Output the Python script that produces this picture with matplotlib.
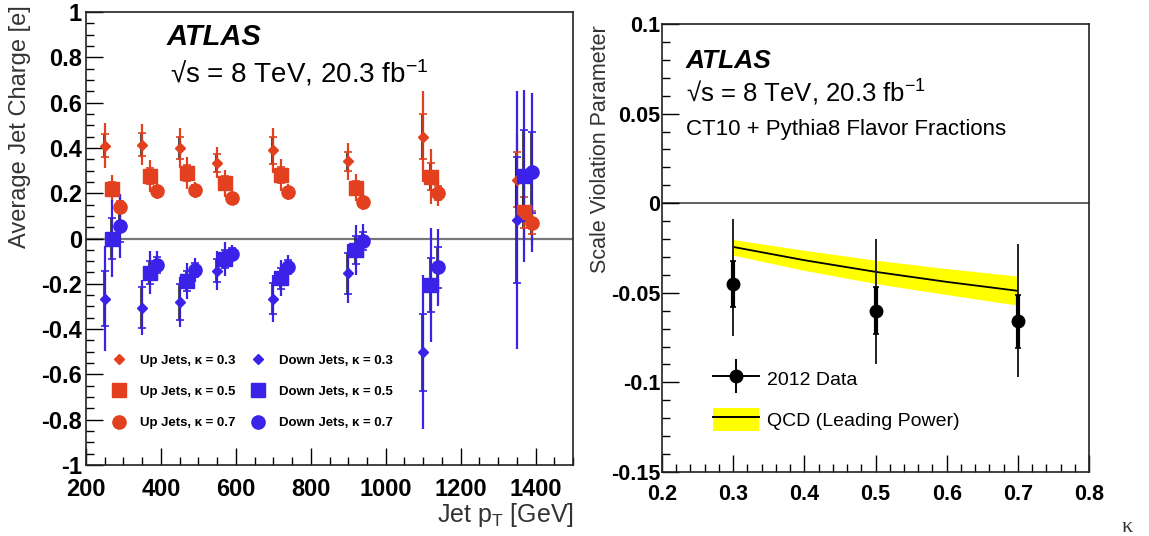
import numpy as np
import matplotlib
matplotlib.use("Agg")
import matplotlib.pyplot as plt
from matplotlib.lines import Line2D
from matplotlib.patches import Patch
from matplotlib.ticker import MultipleLocator

plt.rcParams["font.family"] = ["Liberation Sans", "DejaVu Sans"]
plt.rcParams["mathtext.fontset"] = "custom"
plt.rcParams["mathtext.rm"] = "Liberation Sans"
plt.rcParams["mathtext.it"] = "Liberation Sans:italic"

# ---- left panel: average jet charge vs pT ----
pt_k03 = [250, 350, 450, 550, 700, 900, 1100, 1350]
pt_k05 = [270, 370, 470, 570, 720, 920, 1120, 1370]
pt_k07 = [290, 390, 490, 590, 740, 940, 1140, 1390]

up_k03 = [0.41, 0.415, 0.40, 0.335, 0.39, 0.34, 0.45, 0.26]
up_k03_err = [0.10, 0.09, 0.09, 0.07, 0.10, 0.08, 0.20, 0.20]
up_k03_stat = [0.05, 0.05, 0.05, 0.04, 0.06, 0.04, 0.10, 0.12]
up_k05 = [0.22, 0.277, 0.288, 0.244, 0.279, 0.224, 0.273, 0.115]
up_k05_err = [0.06, 0.07, 0.07, 0.06, 0.07, 0.06, 0.12, 0.12]
up_k05_stat = [0.03, 0.035, 0.035, 0.03, 0.035, 0.03, 0.06, 0.07]
up_k07 = [0.14, 0.211, 0.214, 0.18, 0.205, 0.16, 0.202, 0.07]
up_k07_err = [0.05, 0.035, 0.035, 0.03, 0.035, 0.035, 0.06, 0.10]
up_k07_stat = [0.025, 0.02, 0.02, 0.015, 0.02, 0.02, 0.03, 0.05]

down_k03 = [-0.265, -0.305, -0.28, -0.142, -0.265, -0.154, -0.503, 0.082]
down_k03_err = [0.23, 0.12, 0.11, 0.085, 0.105, 0.13, 0.34, 0.57]
down_k03_stat = [0.12, 0.09, 0.08, 0.05, 0.07, 0.09, 0.17, 0.28]
down_k05 = [0.0, -0.151, -0.188, -0.092, -0.176, -0.051, -0.205, 0.277]
down_k05_err = [0.17, 0.095, 0.08, 0.075, 0.08, 0.11, 0.25, 0.38]
down_k05_stat = [0.09, 0.05, 0.045, 0.04, 0.045, 0.06, 0.12, 0.20]
down_k07 = [0.055, -0.117, -0.139, -0.068, -0.127, -0.011, -0.127, 0.292]
down_k07_err = [0.14, 0.06, 0.055, 0.04, 0.055, 0.075, 0.17, 0.35]
down_k07_stat = [0.07, 0.035, 0.03, 0.025, 0.03, 0.04, 0.09, 0.18]

# ---- right panel: scale violation parameter vs kappa ----
kappa = [0.3, 0.5, 0.7]
svp_data = [-0.045, -0.060, -0.066]
svp_err_up = [0.036, 0.040, 0.043]
svp_err_dn = [0.029, 0.030, 0.031]
svp_stat = [0.013, 0.013, 0.015]

qcd_kappa = [0.3, 0.4, 0.5, 0.6, 0.7]
qcd_central = [-0.0244, -0.0318, -0.0383, -0.0439, -0.0489]
qcd_upper = [-0.0203, -0.0263, -0.0318, -0.0365, -0.0407]
qcd_lower = [-0.0290, -0.0375, -0.0448, -0.0510, -0.0569]

RED = "#e2401e"
BLUE = "#3a22e8"


def style_axes(ax, tick_size, ypad, xpad):
    ax.tick_params(which="both", direction="in", top=False, right=False,
                   labelsize=tick_size, width=1.0, colors="black")
    ax.tick_params(which="major", length=12)
    ax.tick_params(which="minor", length=6)
    ax.tick_params(axis="y", pad=ypad)
    ax.tick_params(axis="x", pad=xpad)
    for lab in ax.get_xticklabels() + ax.get_yticklabels():
        lab.set_fontweight("bold")
    for sp in ax.spines.values():
        sp.set_linewidth(1.2)
        sp.set_color("#222222")


def draw_series(ax, x, y, err, stat, color, marker, ms, label):
    x = np.asarray(x, dtype=float)
    ax.errorbar(x, y, yerr=err, fmt="none", ecolor=color, elinewidth=1.6, capsize=0, zorder=2)
    ax.errorbar(x - 3, y, yerr=stat, fmt="none", ecolor="#1a1a1a", elinewidth=2.2,
                capsize=0, alpha=0.75, zorder=3)
    ax.errorbar(x, y, yerr=stat, fmt="none", ecolor=color, elinewidth=1.2,
                capsize=3, capthick=1.2, zorder=3)
    h, = ax.plot(x, y, linestyle="none", marker=marker, ms=ms, color=color,
                 markeredgecolor=color, label=label, zorder=4)
    return h


fig = plt.figure(figsize=(11.49, 5.36), dpi=100)
ax1 = fig.add_axes([86 / 1149, 1 - 465 / 536, 487 / 1149, 453 / 536])
ax2 = fig.add_axes([662 / 1149, 1 - 472 / 536, 427 / 1149, 448 / 536])

# left panel
ax1.axhline(0, color="#777777", lw=1.6, zorder=1)
handles = [
    draw_series(ax1, pt_k03, up_k03, up_k03_err, up_k03_stat, RED, "D", 5, "Up Jets, κ = 0.3"),
    draw_series(ax1, pt_k05, up_k05, up_k05_err, up_k05_stat, RED, "s", 9.5, "Up Jets, κ = 0.5"),
    draw_series(ax1, pt_k07, up_k07, up_k07_err, up_k07_stat, RED, "o", 9.5, "Up Jets, κ = 0.7"),
    draw_series(ax1, pt_k03, down_k03, down_k03_err, down_k03_stat, BLUE, "D", 5, "Down Jets, κ = 0.3"),
    draw_series(ax1, pt_k05, down_k05, down_k05_err, down_k05_stat, BLUE, "s", 9.5, "Down Jets, κ = 0.5"),
    draw_series(ax1, pt_k07, down_k07, down_k07_err, down_k07_stat, BLUE, "o", 9.5, "Down Jets, κ = 0.7"),
]
ax1.set_xlim(200, 1500)
ax1.set_ylim(-1, 1)
ax1.xaxis.set_major_locator(MultipleLocator(200))
ax1.xaxis.set_minor_locator(MultipleLocator(50))
ax1.yaxis.set_major_locator(MultipleLocator(0.2))
ax1.yaxis.set_minor_locator(MultipleLocator(0.05))
ax1.set_yticks(np.arange(-1, 1.01, 0.2))
ax1.set_yticklabels(["-1", "-0.8", "-0.6", "-0.4", "-0.2", "0", "0.2", "0.4", "0.6", "0.8", "1"])
style_axes(ax1, 17, 3, 9)

ax1.legend(handles=handles, ncol=2, loc="upper left", bbox_to_anchor=(0.055, 0.244),
           frameon=False, prop={"size": 9.5, "weight": "bold"}, labelspacing=1.45,
           handlelength=1.0, handletextpad=1.05, columnspacing=1.25, borderpad=0,
           borderaxespad=0)

ax1.text(0.166, 0.927, "ATLAS", transform=ax1.transAxes, fontsize=21,
         fontweight="bold", fontstyle="italic")
ax1.text(0.172, 0.845, "√s = 8 TeV, 20.3 fb$^{\\mathregular{-1}}$", transform=ax1.transAxes,
         fontsize=20)

fig.text(20 / 1149, 1 - 5 / 536, "Average Jet Charge [e]", rotation=90, ha="center",
         va="top", fontsize=17, color="#333333")
fig.text(574 / 1149, 1 - 522 / 536, "Jet p$_{\\mathregular{T}}$ [GeV]", ha="right",
         va="baseline", fontsize=18, color="#333333")

# right panel
ax2.axhline(0, color="#444444", lw=1.2, zorder=1)
ax2.fill_between(qcd_kappa, qcd_lower, qcd_upper, color="#ffff00", lw=0, zorder=2)
ax2.plot(qcd_kappa, qcd_central, color="black", lw=1.3, zorder=3)
ax2.errorbar(kappa, svp_data, yerr=[svp_err_dn, svp_err_up], fmt="none", ecolor="#222222",
             elinewidth=1.4, capsize=0, zorder=4)
ax2.errorbar(kappa, svp_data, yerr=svp_stat, fmt="none", ecolor="black", elinewidth=3.0,
             capsize=2.5, capthick=1.2, zorder=5)
ax2.plot(kappa, svp_data, linestyle="none", marker="o", ms=9, color="black", zorder=6)
ax2.set_xlim(0.2, 0.8)
ax2.set_ylim(-0.15, 0.1)
ax2.xaxis.set_major_locator(MultipleLocator(0.1))
ax2.xaxis.set_minor_locator(MultipleLocator(0.02))
ax2.yaxis.set_major_locator(MultipleLocator(0.05))
ax2.yaxis.set_minor_locator(MultipleLocator(0.01))
ax2.set_yticks([-0.15, -0.1, -0.05, 0, 0.05, 0.1])
ax2.set_yticklabels(["-0.15", "-0.1", "-0.05", "0", "0.05", "0.1"])
ax2.set_xticks([0.2, 0.3, 0.4, 0.5, 0.6, 0.7, 0.8])
ax2.set_xticklabels(["0.2", "0.3", "0.4", "0.5", "0.6", "0.7", "0.8"])
style_axes(ax2, 15.5, 1, 9)

data_handle = (Line2D([], [], color="black", lw=1.4, marker="o", ms=9),
               Line2D([], [], color="black", linestyle="none", marker="|", ms=24, mew=1.4))
qcd_handle = (Patch(facecolor="#ffff00", edgecolor="none"), Line2D([], [], color="black", lw=1.4))
ax2.legend(handles=[data_handle, qcd_handle], labels=["2012 Data", "QCD (Leading Power)"],
           loc="lower left", bbox_to_anchor=(0.119, 0.092), frameon=False, fontsize=14,
           handlelength=2.4, handleheight=1.45, handletextpad=0.4, labelspacing=0.9,
           borderpad=0, borderaxespad=0)

ax2.text(0.056, 0.902, "ATLAS", transform=ax2.transAxes, fontsize=19,
         fontweight="bold", fontstyle="italic")
ax2.text(0.056, 0.826, "√s = 8 TeV, 20.3 fb$^{\\mathregular{-1}}$", transform=ax2.transAxes,
         fontsize=18.5)
ax2.text(0.056, 0.752, "CT10 + Pythia8 Flavor Fractions", transform=ax2.transAxes,
         fontsize=16)

fig.text(600 / 1149, 1 - 25 / 536, "Scale Violation Parameter", rotation=90, ha="center",
         va="top", fontsize=15.5, color="#333333")
fig.text(1127 / 1149, 1 - 532 / 536, "κ", ha="center", va="baseline", fontsize=16,
         family=["Liberation Serif", "DejaVu Serif"], color="#333333")

fig.savefig("out.png", dpi=100)
